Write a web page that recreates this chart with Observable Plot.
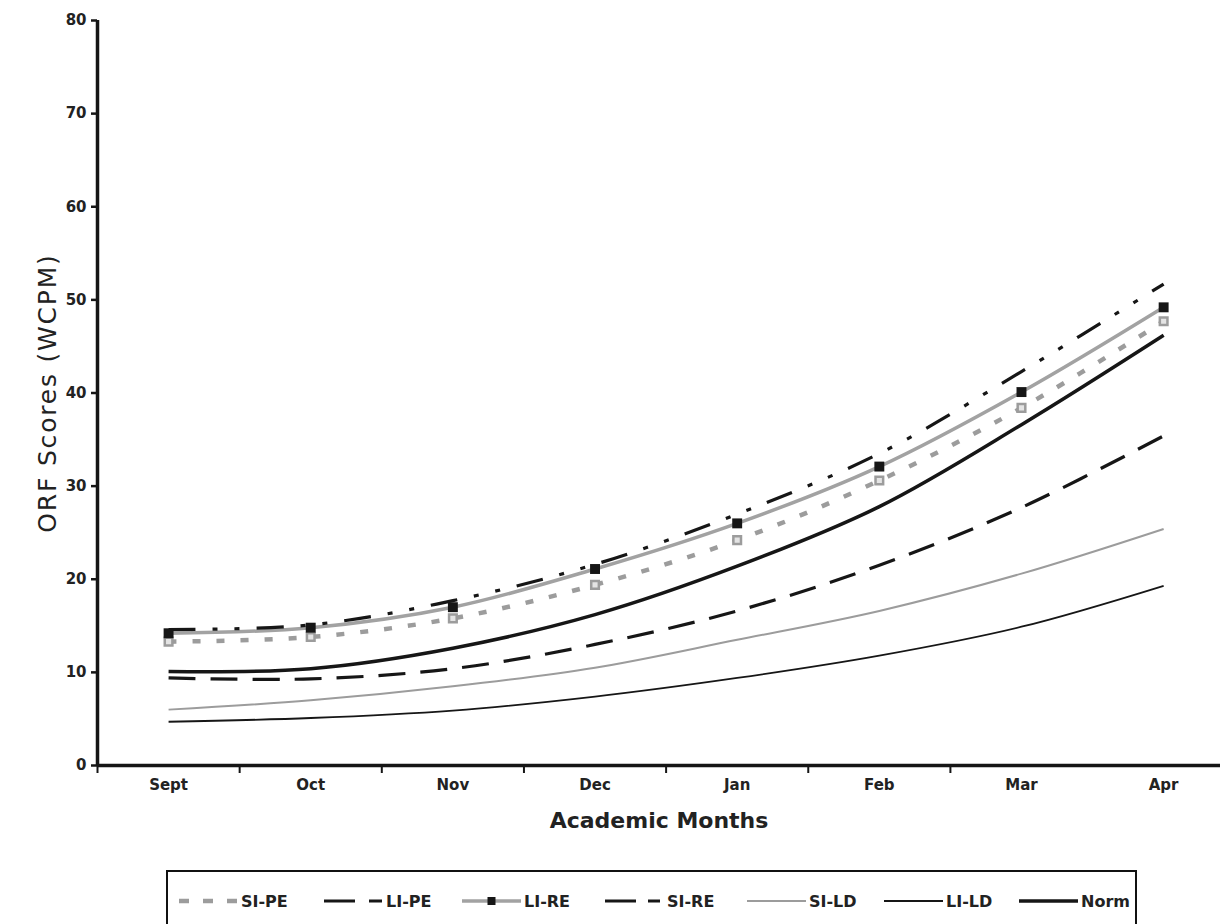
<!DOCTYPE html>
<html>
<head>
<meta charset="utf-8">
<script src="https://cdn.jsdelivr.net/npm/d3@7"></script>
<script src="https://cdn.jsdelivr.net/npm/@observablehq/plot@0.6"></script>
<style>
  html, body { margin: 0; padding: 0; background: #fff; }
  body { width: 1220px; height: 924px; position: relative; overflow: hidden; font-family: "DejaVu Sans", sans-serif; }
  #chart { position: absolute; left: 0; top: 0; }
  #chart .ytitle text { letter-spacing: 1.8px; }
  #legend { position: absolute; left: 166px; top: 870px; width: 967px; height: 60px; border: 2px solid #111; box-sizing: content-box; }
  .item { position: absolute; top: 0; height: 58px; display: flex; align-items: center; }
  .item svg { display: block; }
  .item span { font-size: 16px; font-weight: bold; color: #222; margin-left: 3px; }
</style>
</head>
<body>
<div id="chart"></div>
<div id="legend"></div>
<script>
// ---- data ----
const months = ["Sept", "Oct", "Nov", "Dec", "Jan", "Feb", "Mar", "Apr"];
const seriesNames = ["SI-PE", "LI-PE", "LI-RE", "SI-RE", "SI-LD", "LI-LD", "Norm"];
const siPE = [13.3, 13.8, 15.8, 19.4, 24.2, 30.6, 38.4, 47.7];
const liPE = [14.6, 15.1, 17.7, 21.6, 27.0, 33.5, 42.3, 51.7];
const liRE = [14.2, 14.8, 17.0, 21.1, 26.0, 32.1, 40.1, 49.2];
const siRE = [9.4, 9.3, 10.4, 13.0, 16.6, 21.5, 27.7, 35.4];
const siLD = [6.0, 7.0, 8.5, 10.5, 13.5, 16.6, 20.6, 25.4];
const liLD = [4.7, 5.1, 5.9, 7.4, 9.4, 11.8, 14.9, 19.3];
const norm = [10.1, 10.4, 12.6, 16.2, 21.4, 27.8, 36.6, 46.2];
const yTicks = [0, 10, 20, 30, 40, 50, 60, 70, 80];

const seriesValues = [siPE, liPE, liRE, siRE, siLD, liLD, norm];
const rows = seriesNames.flatMap((s, k) => seriesValues[k].map((v, i) => ({series: s, i, value: v})));
const monthIdx = months.map((m, i) => i);
const boundaries = months.slice(0, -1).map((m, i) => i - 0.5);

// ---- styles ----
const GRAY = "#9c9c9c";
const BLACK = "#161616";
const styles = {
  "SI-PE": {stroke: GRAY, strokeWidth: 4.5, dash: "8,16"},
  "LI-PE": {stroke: BLACK, strokeWidth: 3.2, dash: "27,17,5,17,5,17"},
  "LI-RE": {stroke: "#a2a2a2", strokeWidth: 3.5, dash: null},
  "SI-RE": {stroke: BLACK, strokeWidth: 3.2, dash: "27,15"},
  "SI-LD": {stroke: GRAY, strokeWidth: 2, dash: null},
  "LI-LD": {stroke: BLACK, strokeWidth: 1.8, dash: null},
  "Norm": {stroke: BLACK, strokeWidth: 3.5, dash: null}
};
const legendDash = {"SI-PE": "10,14", "LI-PE": "31,14,13,20", "SI-RE": "31,12,12,20"};
const legendLeft = [11, 156, 294, 437, 579, 716, 851];
const drawOrder = ["LI-LD", "SI-LD", "SI-RE", "Norm", "SI-PE", "LI-RE", "LI-PE"];

const lineMarks = drawOrder.map(s => Plot.line(rows.filter(d => d.series === s), {
  x: "i", y: "value",
  stroke: styles[s].stroke, strokeWidth: styles[s].strokeWidth,
  strokeDasharray: styles[s].dash, strokeLinecap: "butt",
  curve: "catmull-rom"
}));

const chart = Plot.plot({
  width: 1220,
  height: 850,
  marginLeft: 97,
  marginRight: 0,
  marginTop: 20,
  marginBottom: 85,
  style: {fontFamily: "DejaVu Sans, sans-serif", background: "white", color: BLACK},
  x: {type: "linear", domain: [-0.5, 7.4], label: null},
  y: {domain: [0, 80], label: null},
  marks: [
    ...lineMarks,
    Plot.dot(rows.filter(d => d.series === "SI-PE"), {x: "i", y: "value", symbol: "square", r: 4.3, fill: "#e4e4e4", stroke: GRAY, strokeWidth: 2.5}),
    Plot.dot(rows.filter(d => d.series === "LI-RE"), {x: "i", y: "value", symbol: "square", r: 5.6, fill: BLACK, stroke: "none"}),
    Plot.ruleY([0], {stroke: BLACK, strokeWidth: 3.5}),
    Plot.ruleX([-0.5], {stroke: BLACK, strokeWidth: 3.5}),
    Plot.axisY({ticks: yTicks, tickSize: 6, tickPadding: 5, strokeWidth: 2.5, fontSize: 15, fontWeight: "bold", fill: "#222", label: null}),
    Plot.axisX({ticks: boundaries, tickSize: 8, tickFormat: () => "", strokeWidth: 2, label: null}),
    Plot.axisX({ticks: monthIdx, tickSize: 0, tickPadding: 14, tickFormat: i => months[i], fontSize: 15, fontWeight: "bold", fill: "#222", label: null}),
    Plot.text(["Academic Months"], {frameAnchor: "bottom", dy: 62, fontSize: 22, fontWeight: "bold", fill: "#222"}),
    Plot.text(["ORF Scores (WCPM)"], {frameAnchor: "left", dx: -50, rotate: -90, textAnchor: "middle", fontSize: 25, fill: "#222", className: "ytitle"})
  ]
});
document.getElementById("chart").appendChild(chart);

// ---- legend ----
const legend = document.getElementById("legend");
const sampleW = 59;
function sampleSvg(s) {
  const st = styles[s];
  const dash = legendDash[s] || st.dash;
  let inner = `<line x1="0" x2="${sampleW}" y1="8" y2="8" stroke="${st.stroke}" stroke-width="${st.strokeWidth}" ${dash ? `stroke-dasharray="${dash}"` : ""}/>`;
  if (s === "LI-RE") inner += `<rect x="${sampleW / 2 - 4}" y="4" width="8" height="8" fill="${BLACK}"/>`;
  return `<svg width="${sampleW}" height="16">${inner}</svg>`;
}
seriesNames.forEach((s, k) => {
  const div = document.createElement("div");
  div.className = "item";
  div.style.left = legendLeft[k] + "px";
  div.innerHTML = sampleSvg(s) + `<span>${s}</span>`;
  legend.appendChild(div);
});
</script>
</body>
</html>
